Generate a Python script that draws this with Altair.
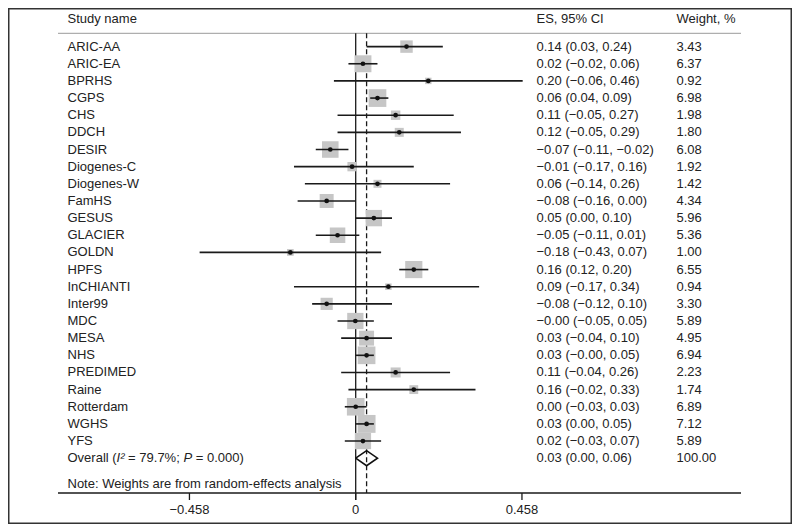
import altair as alt
import pandas as pd

studies = ["ARIC-AA", "ARIC-EA", "BPRHS", "CGPS", "CHS", "DDCH", "DESIR", "Diogenes-C",
           "Diogenes-W", "FamHS", "GESUS", "GLACIER", "GOLDN", "HPFS", "InCHIANTI", "Inter99",
           "MDC", "MESA", "NHS", "PREDIMED", "Raine", "Rotterdam", "WGHS", "YFS"]
es = [0.14, 0.02, 0.20, 0.06, 0.11, 0.12, -0.07, -0.01, 0.06, -0.08, 0.05, -0.05, -0.18, 0.16,
      0.09, -0.08, -0.001, 0.03, 0.03, 0.11, 0.16, 0.00, 0.03, 0.02]
lo = [0.03, -0.02, -0.06, 0.04, -0.05, -0.05, -0.11, -0.17, -0.14, -0.16, 0.00, -0.11, -0.43, 0.12,
      -0.17, -0.12, -0.05, -0.04, -0.001, -0.04, -0.02, -0.03, 0.00, -0.03]
hi = [0.24, 0.06, 0.46, 0.09, 0.27, 0.29, -0.02, 0.16, 0.26, 0.00, 0.10, 0.01, 0.07, 0.20,
      0.34, 0.10, 0.05, 0.10, 0.05, 0.26, 0.33, 0.03, 0.05, 0.07]
weight = [3.43, 6.37, 0.92, 6.98, 1.98, 1.80, 6.08, 1.92, 1.42, 4.34, 5.96, 5.36, 1.00, 6.55,
          0.94, 3.30, 5.89, 4.95, 6.94, 2.23, 1.74, 6.89, 7.12, 5.89]
overall_es, overall_lo, overall_hi, overall_w = 0.03, 0.00, 0.06, 100.00
ticks = [-0.458, 0.0, 0.458]
tick_labels = ["\u22120.458", "0", "0.458"]


def fmt(v):
    return f"{v:.2f}".replace("-", "\u2212")


n = len(studies)
df = pd.DataFrame({
    "study": studies, "es": es, "lo": lo, "hi": hi, "weight": weight,
    "row": list(range(n)),
})
df["ci"] = [f"{fmt(a)} ({fmt(b)}, {fmt(c)})" for a, b, c in zip(es, lo, hi)]
df["wtxt"] = [f"{w:.2f}" for w in weight]

ov_row = n
ov_df = pd.DataFrame({
    "row": [ov_row],
    "ci": [f"{fmt(overall_es)} ({fmt(overall_lo)}, {fmt(overall_hi)})"],
    "wtxt": [f"{overall_w:.2f}"],
})
half = 0.44
diamond = pd.DataFrame({
    "x": [overall_lo, overall_es, overall_hi, overall_es, overall_lo],
    "row": [ov_row, ov_row - half, ov_row, ov_row + half, ov_row],
    "ord": [0, 1, 2, 3, 4],
})
tick_df = pd.DataFrame({"t": ticks, "lab": tick_labels})

W, H = 784, 516
xs = alt.Scale(domain=[-0.95785, 1.20193], nice=False, zero=False)
ys = alt.Scale(domain=[-2.2515, 27.836], nice=False, zero=False, reverse=True)
X = lambda f: alt.X(f, type="quantitative", scale=xs, axis=None)
Y = lambda f: alt.Y(f, type="quantitative", scale=ys, axis=None)

FONT = "Liberation Sans"
FS = 13
TXT = "#222222"

base = alt.Chart(df)

squares = base.mark_square(color="#c6c6c6", opacity=1).encode(
    x=X("es"), y=Y("row"),
    size=alt.Size("weight:Q", scale=alt.Scale(domain=[0, 7.12], range=[0, 7.12 * 45]), legend=None),
)
cis = base.mark_rule(color="#1a1a1a", strokeWidth=1.6).encode(
    x=X("lo"), x2="hi", y=Y("row"),
)
dots = base.mark_point(shape="circle", filled=True, color="#111111", size=22, opacity=1).encode(
    x=X("es"), y=Y("row"),
)

zero_line = alt.Chart(tick_df).mark_rule(color="#1a1a1a", strokeWidth=1.3).encode(
    x=alt.X("z:Q", scale=xs, axis=None), y=alt.value(25.3), y2=alt.value(492),
).transform_calculate(z="0").transform_filter("datum.t == 0")

dash_line = alt.Chart(ov_df).mark_rule(color="#1a1a1a", strokeWidth=1.3, strokeDash=[5, 3]).encode(
    x=alt.X("o:Q", scale=xs, axis=None), y=alt.value(25.3), y2=alt.value(485),
).transform_calculate(o=str(overall_es))

diamond_mark = alt.Chart(diamond).mark_line(color="#111111", strokeWidth=1.6).encode(
    x=X("x"), y=Y("row"), order="ord:Q",
)

header_line = alt.Chart(ov_df).mark_rule(color="#9a9a9a", strokeWidth=1).encode(
    x=alt.value(50), x2=alt.value(733), y=alt.value(25.3),
)
axis_line = alt.Chart(ov_df).mark_rule(color="#1a1a1a", strokeWidth=1.3).encode(
    x=alt.value(50), x2=alt.value(733), y=alt.value(485),
)
tick_marks = alt.Chart(tick_df).mark_rule(color="#1a1a1a", strokeWidth=1.3).encode(
    x=alt.X("t:Q", scale=xs, axis=None), y=alt.value(485), y2=alt.value(492),
)
tick_text = alt.Chart(tick_df).mark_text(font=FONT, fontSize=FS, color=TXT, align="center", baseline="middle").encode(
    x=alt.X("t:Q", scale=xs, axis=None), y=alt.value(502), text="lab:N",
)


def txt(data, xpos, field, **kw):
    return alt.Chart(data).mark_text(font=FONT, fontSize=FS, color=TXT, align="left",
                                     baseline="middle", **kw).encode(
        x=alt.value(xpos), y=Y("row"), text=f"{field}:N")


names = txt(df, 59.5, "study")
cis_txt = txt(df, 528.5, "ci")
w_txt = txt(df, 668.5, "wtxt")
ov_ci = txt(ov_df, 528.5, "ci")
ov_w = txt(ov_df, 668.5, "wtxt")


def label(text, xpos, ypos=None, style="normal", row=None, size=FS):
    m = alt.Chart(ov_df).mark_text(font=FONT, fontSize=size, color=TXT, align="left",
                                   baseline="middle", fontStyle=style, text=text)
    if row is None:
        return m.encode(x=alt.value(xpos), y=alt.value(ypos))
    return m.encode(x=alt.value(xpos), y=Y("row"))


ov_parts = [
    label("Overall (", 59.5, row=True),
    label("I\u00b2", 108.6, style="italic", row=True),
    label("= 79.7%;", 120.1, row=True),
    label("P", 175.4, style="italic", row=True),
    label("= 0.000)", 187.7, row=True),
]

hdr = [
    label("Study name", 59.5, 11),
    label("ES, 95% CI", 528.5, 11),
    label("Weight, %", 668.5, 11),
    label("Note: Weights are from random-effects analysis", 59.5, 476),
]

chart = alt.layer(
    header_line, axis_line, zero_line, dash_line, squares, cis, dots, diamond_mark,
    tick_marks, tick_text, names, cis_txt, w_txt, ov_ci, ov_w, *ov_parts, *hdr,
).properties(
    width=W, height=H, padding=0, autosize=alt.AutoSizeParams(type="none"),
).configure_view(stroke="#333333", strokeWidth=3)

chart.save("out.html", embed_options={"renderer": "svg", "actions": False})
